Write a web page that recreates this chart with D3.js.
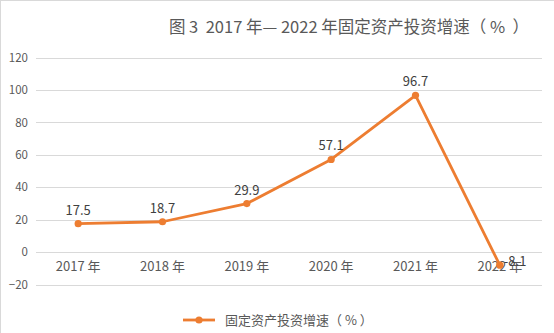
<!DOCTYPE html>
<html><head><meta charset="utf-8">
<script src="https://cdn.jsdelivr.net/npm/d3@7"></script>
<style>body{margin:0;background:#fff}svg{display:block}text{font-family:"Noto Sans CJK SC","Noto Sans",sans-serif}</style>
</head><body>
<svg id="c" width="554" height="333"></svg>
<script>
const categories = ["2017年","2018年","2019年","2020年","2021年","2022年"];
const catLabels = ["2017 年","2018 年","2019 年","2020 年","2021 年","2022 年"];
const values = [17.5, 18.7, 29.9, 57.1, 96.7, -8.1];
const yTicks = [-20, 0, 20, 40, 60, 80, 100, 120];
const seriesName = "固定资产投资增速（ % ）";
const title = "图 3  2017 年— 2022 年固定资产投资增速（ %  ）";

const svg = d3.select("#c");
const W = 554, H = 333;
const color = "#ED7D31";
svg.append("rect").attr("x",0.5).attr("y",0.5).attr("width",W).attr("height",H)
  .attr("fill","#fff").attr("stroke","#d9d9d9");

const x = d3.scaleBand().domain(categories).range([36, 542]);
const y = d3.scaleLinear().domain([-20, 120]).range([284.5, 57.5]);

svg.append("g").selectAll("line").data(yTicks).join("line")
  .attr("x1",36).attr("x2",542)
  .attr("y1",d=>Math.round(y(d))+0.5).attr("y2",d=>Math.round(y(d))+0.5)
  .attr("stroke","#d9d9d9").attr("stroke-width",1);

const yAxis = d3.axisLeft(y).tickValues(yTicks).tickSize(0).tickPadding(6).tickFormat(d3.format("d"));
const ga = svg.append("g").attr("transform","translate(34,0)").call(yAxis);
ga.select(".domain").remove();
ga.selectAll("text").attr("fill","#595959").style("font-size","11.5px").attr("font-family","Noto Sans CJK SC");

const xAxis = d3.axisBottom(x).tickSize(0).tickPadding(10).tickFormat((d,i)=>catLabels[i]);
const gx = svg.append("g").attr("transform",`translate(0,${y(0)})`).call(xAxis);
gx.select(".domain").remove();
gx.selectAll("text").attr("fill","#595959").style("font-size","13px");

const line = d3.line().x((d,i)=>x(categories[i])+x.bandwidth()/2).y(d=>y(d));
svg.append("path").datum(values).attr("d",line).attr("fill","none")
  .attr("stroke",color).attr("stroke-width",2.8).attr("stroke-linejoin","round");
svg.append("g").selectAll("circle").data(values).join("circle")
  .attr("cx",(d,i)=>x(categories[i])+x.bandwidth()/2).attr("cy",d=>y(d)).attr("r",3.6).attr("fill",color);

svg.append("g").selectAll("text").data(values).join("text")
  .attr("x",(d,i)=>x(categories[i])+x.bandwidth()/2 + (i===5?4:0))
  .attr("y",(d,i)=>i===5? y(d)+1 : y(d)-9)
  .attr("text-anchor",(d,i)=>i===5?"start":"middle")
  .attr("fill","#404040").style("font-size","13px")
  .text(d=>d.toFixed(1));

svg.append("text").attr("x",349).attr("y",33).attr("text-anchor","middle")
  .attr("fill","#595959").style("font-size","16.5px").style("white-space","pre")
  .attr("xml:space","preserve").text(title);

const lg = svg.append("g");
lg.append("line").attr("x1",183).attr("x2",215).attr("y1",320).attr("y2",320).attr("stroke",color).attr("stroke-width",2.8);
lg.append("circle").attr("cx",199).attr("cy",320).attr("r",3.6).attr("fill",color);
lg.append("text").attr("x",225).attr("y",325).attr("fill","#595959").style("font-size","13px").style("white-space","pre").text(seriesName);
</script>
</body></html>
